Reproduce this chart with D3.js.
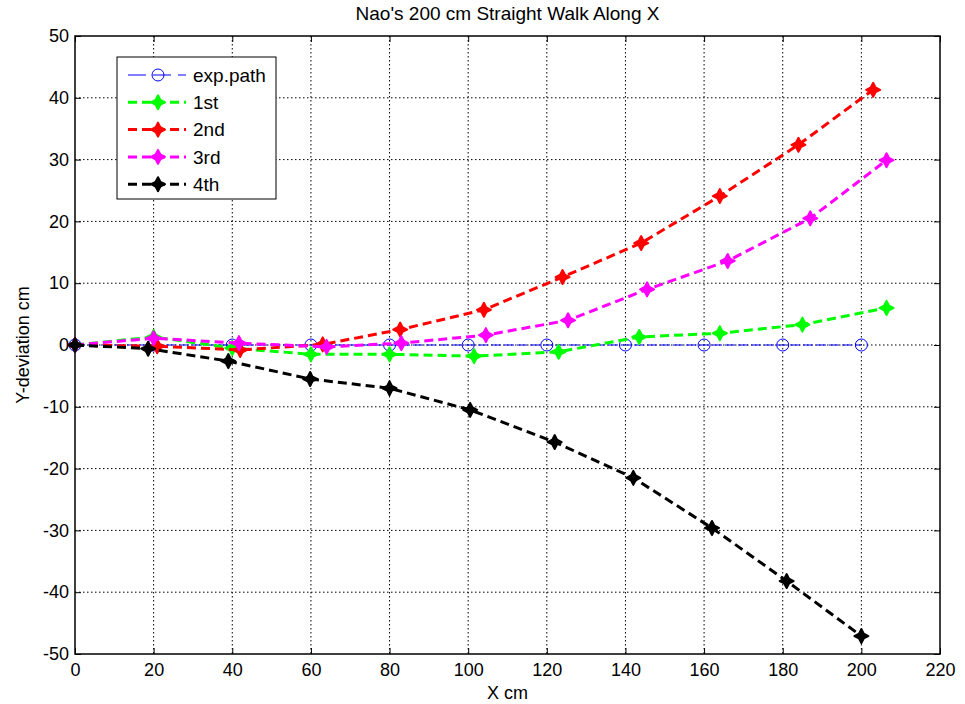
<!DOCTYPE html>
<html>
<head>
<meta charset="utf-8">
<script src="https://cdn.jsdelivr.net/npm/d3@7"></script>
<style>
  body { margin: 0; background: #fff; }
  svg { display: block; font-family: "Liberation Sans", Arial, sans-serif; }
</style>
</head>
<body>
<svg id="chart" width="965" height="704"></svg>
<script>
// Planned path: straight line along X
const expX = [0, 20, 40, 60, 80, 100, 120, 140, 160, 180, 200];
const expY = [0, 0, 0, 0, 0, 0, 0, 0, 0, 0, 0];

// Measured walks
const run1X = [0, 20, 40, 60, 80, 101.5, 123, 143.5, 164, 185, 206.4];
const run1Y = [0, 1.3, -0.5, -1.5, -1.5, -1.8, -1.1, 1.3, 1.9, 3.3, 6.0];

const run2X = [0, 20.9, 42, 63, 82.7, 104, 124, 144, 164, 184, 203];
const run2Y = [0, -0.2, -0.8, 0.1, 2.5, 5.7, 11.0, 16.5, 24.1, 32.4, 41.3];

const run3X = [0, 20, 41.7, 64, 83, 104.5, 125.4, 145.5, 166, 187, 206.4];
const run3Y = [0, 1.1, 0.3, -0.3, 0.3, 1.6, 4.0, 9.0, 13.6, 20.5, 29.9];

const run4X = [0, 18.6, 39, 59.8, 80, 100.5, 122, 142, 162, 181, 200];
const run4Y = [0, -0.6, -2.6, -5.5, -7.0, -10.5, -15.7, -21.5, -29.6, -38.2, -47.1];

const seriesNames = ["exp.path", "1st", "2nd", "3rd", "4th"];
const seriesColors = ["#0000ff", "#00ff00", "#ff0000", "#ff00ff", "#000000"];

const xTicks = [0, 20, 40, 60, 80, 100, 120, 140, 160, 180, 200, 220];
const yTicks = [-50, -40, -30, -20, -10, 0, 10, 20, 30, 40, 50];

const svg = d3.select("#chart");
const pL = 75, pR = 940, pT = 36, pB = 654;

const x = d3.scaleLinear().domain([0, 220]).range([pL, pR]);
const y = d3.scaleLinear().domain([-50, 50]).range([pB, pT]);

// Grid
const grid = svg.append("g").attr("stroke", "#000").attr("stroke-width", 1)
  .attr("stroke-dasharray", "1.5,2.5");
xTicks.slice(1, -1).forEach(t => {
  grid.append("line").attr("x1", x(t)).attr("x2", x(t)).attr("y1", pT).attr("y2", pB);
});
yTicks.slice(1, -1).forEach(t => {
  grid.append("line").attr("x1", pL).attr("x2", pR).attr("y1", y(t)).attr("y2", y(t));
});

// Axes with inward ticks on all four sides
const plain = d => String(d);
const axB = d3.axisBottom(x).tickValues(xTicks).tickSize(-6).tickPadding(9).tickFormat(plain);
const axT = d3.axisTop(x).tickValues(xTicks).tickSize(-6).tickFormat("");
const axL = d3.axisLeft(y).tickValues(yTicks).tickSize(-6).tickPadding(6).tickFormat(plain);
const axR = d3.axisRight(y).tickValues(yTicks).tickSize(-6).tickFormat("");

function styleAxis(g) {
  g.select(".domain").remove();
  g.selectAll("line").attr("stroke", "#000");
  g.selectAll("text").attr("font-size", 18).attr("fill", "#000")
   .attr("font-family", "Liberation Sans, Arial, sans-serif");
}
svg.append("g").attr("transform", `translate(0,${pB})`).call(axB).call(styleAxis);
svg.append("g").attr("transform", `translate(0,${pT})`).call(axT).call(styleAxis);
svg.append("g").attr("transform", `translate(${pL},0)`).call(axL).call(styleAxis);
svg.append("g").attr("transform", `translate(${pR},0)`).call(axR).call(styleAxis);

svg.append("rect").attr("x", pL).attr("y", pT)
  .attr("width", pR - pL).attr("height", pB - pT)
  .attr("fill", "none").attr("stroke", "#000").attr("stroke-width", 1.5);

// Star-like filled marker
function starPath(cx, cy) {
  const a = 7, b = 2.4;
  return `M${cx},${cy - a} L${cx + b},${cy - b} L${cx + a},${cy} L${cx + b},${cy + b} ` +
         `L${cx},${cy + a} L${cx - b},${cy + b} L${cx - a},${cy} L${cx - b},${cy - b} Z`;
}

const line = d3.line().x(d => x(d[0])).y(d => y(d[1]));
const plot = svg.append("g");

// planned path
const expData = expX.map((v, i) => [v, expY[i]]);
plot.append("path").datum(expData).attr("d", line).attr("fill", "none")
  .attr("stroke", seriesColors[0]).attr("stroke-width", 1).attr("stroke-dasharray", "10,3");
plot.selectAll(".circ").data(expData).join("circle")
  .attr("cx", d => x(d[0])).attr("cy", d => y(d[1])).attr("r", 6)
  .attr("fill", "none").attr("stroke", seriesColors[0]).attr("stroke-width", 1);

const runs = [[run1X, run1Y], [run2X, run2Y], [run3X, run3Y], [run4X, run4Y]];
runs.forEach((r, k) => {
  const data = r[0].map((v, i) => [v, r[1][i]]);
  const col = seriesColors[k + 1];
  plot.append("path").datum(data).attr("d", line).attr("fill", "none")
    .attr("stroke", col).attr("stroke-width", 3).attr("stroke-dasharray", "9,5");
  plot.append("g").selectAll("path").data(data).join("path")
    .attr("d", d => starPath(x(d[0]), y(d[1])))
    .attr("fill", col).attr("stroke", col).attr("stroke-width", 2).attr("stroke-linejoin", "round");
});

// Legend
const lg = svg.append("g");
lg.append("rect").attr("x", 117).attr("y", 57).attr("width", 159).attr("height", 142)
  .attr("fill", "#fff").attr("stroke", "#000").attr("stroke-width", 1);
seriesNames.forEach((name, i) => {
  const ly = 75 + i * 27.3;
  const col = seriesColors[i];
  if (i === 0) {
    lg.append("line").attr("x1", 128).attr("x2", 186).attr("y1", ly).attr("y2", ly)
      .attr("stroke", col).attr("stroke-width", 1).attr("stroke-dasharray", "18,7");
    lg.append("circle").attr("cx", 158).attr("cy", ly).attr("r", 6)
      .attr("fill", "none").attr("stroke", col).attr("stroke-width", 1);
  } else {
    lg.append("line").attr("x1", 128).attr("x2", 186).attr("y1", ly).attr("y2", ly)
      .attr("stroke", col).attr("stroke-width", 3).attr("stroke-dasharray", "9,5");
    lg.append("path").attr("d", starPath(158, ly)).attr("fill", col)
      .attr("stroke", col).attr("stroke-width", 2).attr("stroke-linejoin", "round");
  }
  lg.append("text").attr("x", 193).attr("y", ly).attr("dy", "0.35em")
    .attr("font-size", 19).attr("fill", "#000").text(name);
});

// Titles
svg.append("text").attr("x", (pL + pR) / 2).attr("y", 20).attr("text-anchor", "middle")
  .attr("font-size", 19).attr("fill", "#000").text("Nao's 200 cm Straight Walk Along X");
svg.append("text").attr("x", (pL + pR) / 2).attr("y", 699).attr("text-anchor", "middle")
  .attr("font-size", 18).attr("fill", "#000").text("X cm");
svg.append("text").attr("transform", `translate(29,${(pT + pB) / 2}) rotate(-90)`)
  .attr("text-anchor", "middle").attr("font-size", 18).attr("fill", "#000").text("Y-deviation cm");
</script>
</body>
</html>
